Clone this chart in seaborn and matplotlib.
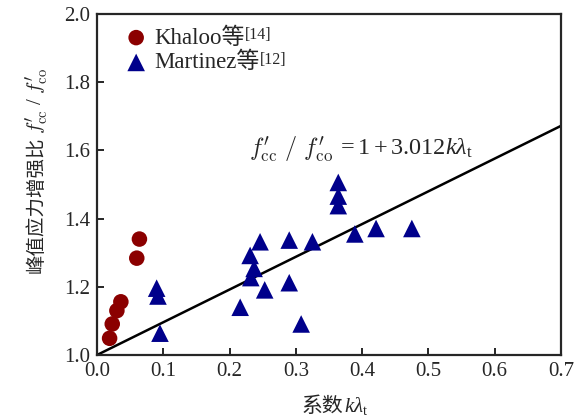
import numpy as np
import pandas as pd
import matplotlib
matplotlib.use("Agg")
import matplotlib.pyplot as plt
import seaborn as sns

# Khaloo et al. [14]
khaloo_x = [0.019, 0.023, 0.030, 0.036, 0.060, 0.064]
khaloo_y = [1.049, 1.091, 1.130, 1.156, 1.284, 1.340]

# Martinez et al. [12]
martinez_x = [0.090, 0.092, 0.095, 0.216, 0.231, 0.237, 0.232, 0.246, 0.253,
              0.290, 0.290, 0.308, 0.325, 0.364, 0.364, 0.364, 0.389, 0.421, 0.475]
martinez_y = [1.196, 1.173, 1.064, 1.140, 1.292, 1.254, 1.227, 1.332, 1.191,
              1.337, 1.212, 1.091, 1.332, 1.506, 1.466, 1.438, 1.355, 1.371, 1.371]

# fitted line as drawn
fit_x = [0.0, 0.7]
fit_y = [1.0, 1.672]

legend_names = ["Khaloo等", "Martinez等"]
legend_refs = ["[14]", "[12]"]

sns.set_style("ticks")
plt.rcParams["font.family"] = ["Liberation Serif", "Noto Sans CJK SC"]
plt.rcParams["mathtext.fontset"] = "custom"
plt.rcParams["mathtext.rm"] = "Liberation Serif"
plt.rcParams["mathtext.it"] = "Liberation Serif:italic"
plt.rcParams["mathtext.bf"] = "Liberation Serif:bold"
plt.rcParams["mathtext.fallback"] = "stix"
plt.rcParams["axes.linewidth"] = 1.6
plt.rcParams["xtick.direction"] = "in"
plt.rcParams["ytick.direction"] = "in"

df_k = pd.DataFrame({"x": khaloo_x, "y": khaloo_y})
df_m = pd.DataFrame({"x": martinez_x, "y": martinez_y})
df_fit = pd.DataFrame({"x": fit_x, "y": fit_y})

W, H = 585, 419
fig = plt.figure(figsize=(W / 100, H / 100), dpi=100)
ax = fig.add_axes([97 / W, 1 - 355 / H, 464 / W, 341 / H])

sns.lineplot(data=df_fit, x="x", y="y", color="black", linewidth=1.8, ax=ax)
sns.scatterplot(data=df_k, x="x", y="y", marker="o", s=125, color="#8b0000",
                edgecolor="none", label=legend_names[0], ax=ax, zorder=3)
sns.scatterplot(data=df_m, x="x", y="y", marker="^", s=160, color="#00008b",
                edgecolor="none", label=legend_names[1], ax=ax, zorder=3)

ax.set_xlim(0, 0.7)
ax.set_ylim(1.0, 2.0)
ax.set_xticks(np.arange(0, 0.71, 0.1))
ax.set_yticks(np.arange(1.0, 2.01, 0.2))
ax.xaxis.set_major_formatter(matplotlib.ticker.FormatStrFormatter("%.1f"))
ax.yaxis.set_major_formatter(matplotlib.ticker.FormatStrFormatter("%.1f"))
ax.tick_params(labelsize=15, length=5, width=1.4, top=False, right=False, pad=5)
ax.set_xlabel("")
ax.set_ylabel("")

leg = ax.legend(loc="upper left", bbox_to_anchor=(0.035, 0.988), frameon=False,
                fontsize=16.5, handletextpad=0.2, borderaxespad=0.0,
                labelspacing=0.15, handlelength=1.2)

# superscript references after legend labels
for txt, ref in zip(leg.get_texts(), legend_refs):
    ax.annotate(ref, xy=(1, 1.02), xycoords=txt, ha="left", va="top", fontsize=11.5)

# equation: primed part in cm (big prime), rest in Times-like font
eq_left = ax.text(0.229, 1.586, r"$f^{\prime}_{\rm cc}\ /\ f^{\prime}_{\rm co}$",
                  fontsize=17.5, ha="left", va="baseline", math_fontfamily="cm")

# axis labels: CJK part + math part placed after it
xl = fig.text(302 / W, 1 - 412 / H, "系数", fontsize=15, ha="left", va="baseline",
              family="Noto Sans CJK SC")
yl = fig.text(42 / W, 146 / H, "峰值应力增强比", fontsize=14, rotation=90,
              rotation_mode="anchor", ha="left", va="baseline", family="Noto Sans CJK SC")
fig.canvas.draw()
be = eq_left.get_window_extent()
bx = xl.get_window_extent()
by = yl.get_window_extent()
base_y = ax.transData.transform((0.229, 1.586))[1]
fig.text((be.x1 + 4) / W, base_y / H, r"$= 1 + 3.012k\lambda_{\rm t}$",
         fontsize=17.5, ha="left", va="baseline")
fig.text(bx.x1 / W, 1 - 412 / H, r"$k\lambda_{\rm t}$", fontsize=15,
         ha="left", va="baseline")
fig.text(42 / W, (by.y1 + 2) / H, r"$f^{\prime}_{\rm cc}$ / $f^{\prime}_{\rm co}$",
         fontsize=15, rotation=90, rotation_mode="anchor", ha="left", va="baseline",
         math_fontfamily="cm")

fig.savefig("out.png", dpi=100)
